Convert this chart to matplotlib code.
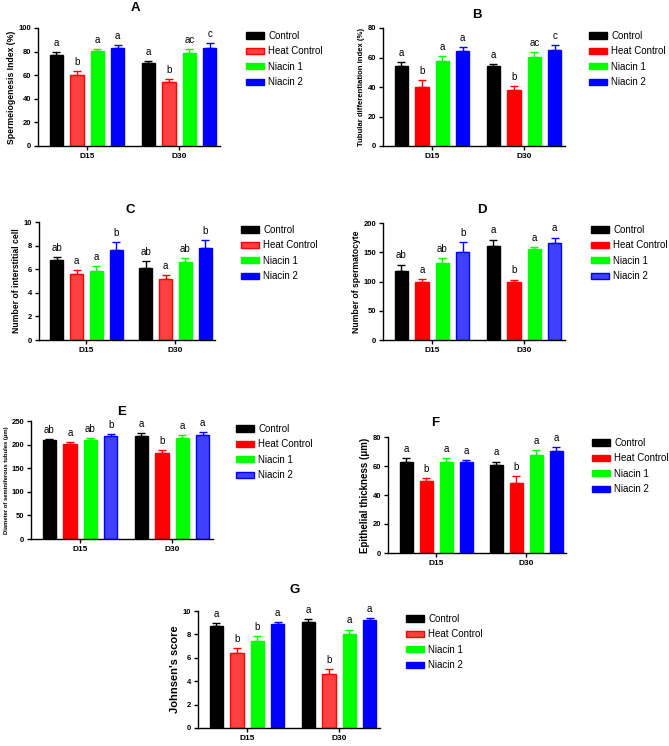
import numpy as np
import matplotlib.pyplot as plt
from matplotlib.patches import Patch

plt.rcParams['font.family'] = ['Liberation Sans', 'DejaVu Sans']

W, H = 669, 746

groups = ['D15', 'D30']
treatments = ['Control', 'Heat Control', 'Niacin 1', 'Niacin 2']

# means / SEM per panel, order: D15 (C, HC, N1, N2), D30 (C, HC, N1, N2)
spermio_mean = [77, 60, 80.7, 83, 70.2, 54, 79, 83.2]
spermio_err = [2.5, 3.5, 1.2, 2.3, 2.0, 2.5, 2.8, 3.7]
spermio_sig = ['a', 'b', 'a', 'a', 'a', 'b', 'ac', 'c']

tubular_mean = [54, 40.2, 57.3, 64.3, 54, 38, 60.2, 64.8]
tubular_err = [2.8, 4.3, 3.6, 2.7, 1.5, 2.5, 3.4, 3.6]
tubular_sig = ['a', 'b', 'a', 'a', 'a', 'b', 'ac', 'c']

interst_mean = [6.74, 5.58, 5.86, 7.65, 6.09, 5.18, 6.6, 7.82]
interst_err = [0.3, 0.31, 0.4, 0.65, 0.6, 0.32, 0.34, 0.65]
interst_sig = ['ab', 'a', 'a', 'b', 'ab', 'a', 'ab', 'b']

cyte_mean = [118.8, 100, 132.4, 151, 160.8, 98.3, 156.3, 166.5]
cyte_err = [10, 4, 7.4, 17, 10.8, 5, 2.8, 8.5]
cyte_sig = ['ab', 'a', 'ab', 'b', 'a', 'b', 'a', 'a']

diam_mean = [209, 200.4, 210.3, 218.8, 217.4, 182.7, 214.6, 219.5]
diam_err = [2.8, 5.7, 2.8, 3.5, 6.4, 5, 5, 7]
diam_sig = ['ab', 'a', 'ab', 'b', 'a', 'b', 'a', 'a']

epi_mean = [62.9, 50, 62.9, 63.1, 61, 48.5, 67.7, 70.4]
epi_err = [2.7, 1.9, 2.7, 1.1, 2.0, 4.3, 3.4, 2.7]
epi_sig = ['a', 'b', 'a', 'a', 'a', 'b', 'a', 'a']

johnsen_mean = [8.7, 6.37, 7.42, 8.87, 9.09, 4.65, 8.02, 9.2]
johnsen_err = [0.28, 0.43, 0.43, 0.17, 0.23, 0.36, 0.39, 0.23]
johnsen_sig = ['a', 'b', 'b', 'a', 'a', 'b', 'a', 'a']

solid = ['#000000', '#FF0000', '#00FF00', '#0000FF']
light = ['#000000', '#FF4040', '#00FF00', '#4040FF']

fig = plt.figure(figsize=(W / 100, H / 100), dpi=100)


def panel(box, title, title_xy, ylabel, ylfs, ymax, ystep, mean, err, sig,
          light_idx, leg_xy):
    l, r, t, b = box
    ax = fig.add_axes([l / W, 1 - b / H, (r - l) / W, (b - t) / H])
    centers = [0, 4.5]
    xs = []
    for g in centers:
        xs += [g - 1.5, g - 0.5, g + 0.5, g + 1.5]
    faces = []
    for k in range(8):
        i = k % 4
        faces.append(light[i] if i == light_idx else solid[i])
    edges = [solid[k % 4] for k in range(8)]
    ax.bar(xs, mean, width=0.65, color=faces, edgecolor=edges, linewidth=1,
           zorder=2)
    for k in range(8):
        ax.errorbar(xs[k], mean[k], yerr=[[0], [err[k]]], color=edges[k],
                    capsize=3, elinewidth=1, capthick=1, zorder=1)
        ax.annotate(sig[k], (xs[k], mean[k] + err[k]), xytext=(0, 3),
                    textcoords='offset points', ha='center', va='bottom',
                    fontsize=7)
    ax.set_xlim(-2.4, 6.5)
    ax.set_ylim(0, ymax)
    ax.set_yticks(np.arange(0, ymax + ystep / 2, ystep))
    ax.set_xticks(centers)
    ax.set_xticklabels(groups, fontweight='bold', fontsize=6)
    for lab in ax.get_yticklabels():
        lab.set_fontweight('bold')
        lab.set_fontsize(5.5)
    ax.tick_params(length=3, width=1, pad=2)
    for s in ['top', 'right']:
        ax.spines[s].set_visible(False)
    for s in ['left', 'bottom']:
        ax.spines[s].set_linewidth(1)
    ax.set_ylabel(ylabel, fontweight='bold', fontsize=ylfs, labelpad=2)
    fig.text(title_xy[0] / W, 1 - title_xy[1] / H, title, fontsize=9.5,
             fontweight='bold', ha='center', va='center')
    handles = [Patch(facecolor=light[i] if i == light_idx else solid[i],
                     edgecolor=solid[i], linewidth=1) for i in range(4)]
    fig.legend(handles, treatments, loc='upper left',
               bbox_to_anchor=(leg_xy[0] / W, 1 - leg_xy[1] / H),
               frameon=False, fontsize=7, handlelength=1.9,
               handleheight=0.6, labelspacing=0.55, handletextpad=0.4,
               borderpad=0, borderaxespad=0)
    return ax


panel((38, 220, 28, 146), 'A', (135, 8), 'Spermeiogenesis Index (%)', 6.2,
      100, 20, spermio_mean, spermio_err, spermio_sig, 1, (246, 31))
panel((383, 565, 28, 146), 'B', (477, 15), 'Tubular differentiation index (%)', 5.6,
      80, 20, tubular_mean, tubular_err, tubular_sig, -1, (589, 31))
panel((39, 215, 222, 340), 'C', (130, 210), 'Number of interstitial cell', 6.2,
      10, 2, interst_mean, interst_err, interst_sig, 1, (241, 225))
panel((383, 565, 223, 340), 'D', (482, 210), 'Number of spermatocyte', 6.2,
      200, 50, cyte_mean, cyte_err, cyte_sig, 3, (591, 225))
panel((31, 213, 421, 539), 'E', (122, 412), 'Diameter of seminiferous tubules (\u03bcm)', 4.2,
      250, 50, diam_mean, diam_err, diam_sig, 3, (236, 424))
panel((388, 566, 437, 553), 'F', (435, 423), 'Epithelial thickness (\u03bcm)', 7,
      80, 20, epi_mean, epi_err, epi_sig, -1, (592, 438))
panel((198, 380, 611, 728), 'G', (295, 590), "Johnsen's score", 8,
      10, 2, johnsen_mean, johnsen_err, johnsen_sig, 1, (406, 614))

plt.savefig('out.png', dpi=100)
